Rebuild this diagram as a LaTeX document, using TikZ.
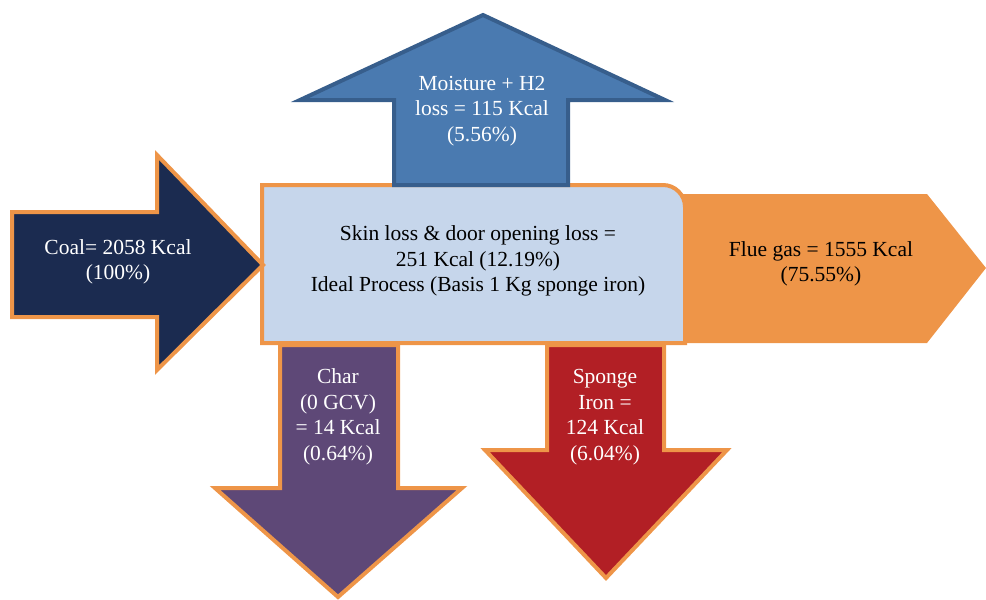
\documentclass[tikz,border=0pt]{standalone}
\usepackage{fontspec}
\setmainfont{Liberation Serif}
\usepackage{xcolor}
\usetikzlibrary{arrows,shapes,positioning}

\definecolor{rimorange}{HTML}{EE9548}
\definecolor{coalblue}{HTML}{1B2B50}
\definecolor{moistblue}{HTML}{4A7AB0}
\definecolor{moistrim}{HTML}{375E8C}
\definecolor{boxblue}{HTML}{C6D6EB}
\definecolor{charpurple}{HTML}{5E4877}
\definecolor{ironred}{HTML}{B21F25}

\tikzset{
  flow/.style={draw=rimorange, line width=4pt},
  flowtext/.style={align=center, text=white, font=\fontsize{21.5}{25.5}\selectfont},
}

\begin{document}
\begin{tikzpicture}[x=1pt, y=-1pt]
        \useasboundingbox (0,0) rectangle (986,600);

        % flue gas, behind the furnace box
        \fill[rimorange] (660,194) -- (927,194) -- (986,268) -- (927,343) -- (660,343) -- cycle;

        % furnace box
        \draw[flow, fill=boxblue] (262,343) -- (262,185) [rounded corners=22pt] -- (685,185)
              [sharp corners] -- (685,343) -- cycle;

        % moisture loss
        \draw[draw=moistrim, line width=4pt, fill=moistblue] (394,185) -- (394,100) -- (300,100)
              -- (483,15) -- (665,100) -- (568,100) -- (568,185) -- cycle;

        % coal in
        \draw[flow, fill=coalblue] (12,212) -- (157,212) -- (157,155) -- (263,265)
              -- (157,370) -- (157,317) -- (12,317) -- cycle;

        % char out
        \draw[flow, fill=charpurple] (280,345) -- (398,345) -- (398,488) -- (462,488)
              -- (338,597) -- (215,488) -- (280,488) -- cycle;

        % sponge iron out
        \draw[flow, fill=ironred] (547,345) -- (664,345) -- (664,450) -- (727,450)
              -- (606,578) -- (485,450) -- (547,450) -- cycle;

        \node[flowtext] (moist) at (482,111) {Moisture + H2\\loss = 115 Kcal\\(5.56\%)};
        \node[flowtext] (coal) at (118,262) {Coal= 2058 Kcal\\(100\%)};
        \node[flowtext, text=black] (furnace) at (478,261)
              {Skin loss \& door opening loss =\\251 Kcal (12.19\%)\\Ideal Process (Basis 1 Kg sponge iron)};
        \node[flowtext, text=black] (flue) at (821,264) {Flue gas = 1555 Kcal\\(75.55\%)};
        \node[flowtext] (char) at (338,417) {Char\\(0 GCV)\\= 14 Kcal\\(0.64\%)};
        \node[flowtext] (sponge) at (605,417) {Sponge\\Iron =\\124 Kcal\\(6.04\%)};

    \end{tikzpicture}
\end{document}
